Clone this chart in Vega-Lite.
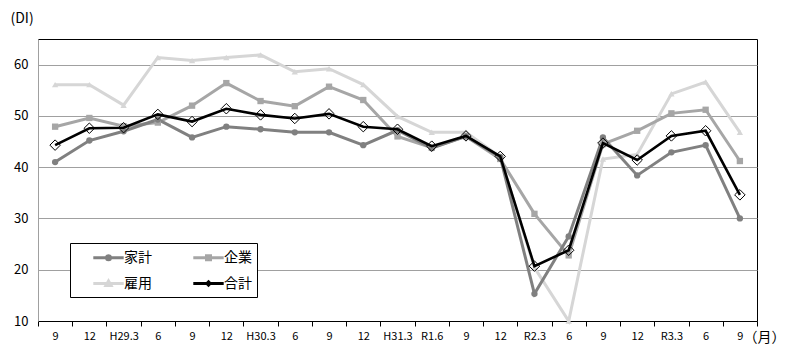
{
  "$schema": "https://vega.github.io/schema/vega-lite/v6.json",
  "width": 719,
  "height": 282,
  "autosize": {"type": "none"},
  "padding": {"left": 38, "top": 39, "right": 30, "bottom": 38},
  "background": "white",
  "config": {
    "view": {"stroke": "black", "strokeWidth": 1},
    "font": "Noto Sans CJK JP"
  },
  "datasets": {
    "di": [
      {"period": "H28.9", "series": "雇用", "value": 56.1},
      {"period": "H28.12", "series": "雇用", "value": 56.1},
      {"period": "H29.3", "series": "雇用", "value": 52.1},
      {"period": "H29.6", "series": "雇用", "value": 61.4},
      {"period": "H29.9", "series": "雇用", "value": 60.8},
      {"period": "H29.12", "series": "雇用", "value": 61.4},
      {"period": "H30.3", "series": "雇用", "value": 61.9},
      {"period": "H30.6", "series": "雇用", "value": 58.6},
      {"period": "H30.9", "series": "雇用", "value": 59.2},
      {"period": "H30.12", "series": "雇用", "value": 56.1},
      {"period": "H31.3", "series": "雇用", "value": 49.9},
      {"period": "R1.6", "series": "雇用", "value": 46.8},
      {"period": "R1.9", "series": "雇用", "value": 46.8},
      {"period": "R1.12", "series": "雇用", "value": 42.0},
      {"period": "R2.3", "series": "雇用", "value": 20.4},
      {"period": "R2.6", "series": "雇用", "value": 10.0},
      {"period": "R2.9", "series": "雇用", "value": 41.6},
      {"period": "R2.12", "series": "雇用", "value": 42.5},
      {"period": "R3.3", "series": "雇用", "value": 54.3},
      {"period": "R3.6", "series": "雇用", "value": 56.6},
      {"period": "R3.9", "series": "雇用", "value": 46.8},
      {"period": "H28.9", "series": "企業", "value": 47.9},
      {"period": "H28.12", "series": "企業", "value": 49.6},
      {"period": "H29.3", "series": "企業", "value": 48.0},
      {"period": "H29.6", "series": "企業", "value": 48.7},
      {"period": "H29.9", "series": "企業", "value": 52.0},
      {"period": "H29.12", "series": "企業", "value": 56.4},
      {"period": "H30.3", "series": "企業", "value": 52.9},
      {"period": "H30.6", "series": "企業", "value": 51.9},
      {"period": "H30.9", "series": "企業", "value": 55.7},
      {"period": "H30.12", "series": "企業", "value": 53.1},
      {"period": "H31.3", "series": "企業", "value": 46.0},
      {"period": "R1.6", "series": "企業", "value": 43.8},
      {"period": "R1.9", "series": "企業", "value": 46.0},
      {"period": "R1.12", "series": "企業", "value": 41.6},
      {"period": "R2.3", "series": "企業", "value": 30.9},
      {"period": "R2.6", "series": "企業", "value": 22.8},
      {"period": "R2.9", "series": "企業", "value": 44.5},
      {"period": "R2.12", "series": "企業", "value": 47.1},
      {"period": "R3.3", "series": "企業", "value": 50.5},
      {"period": "R3.6", "series": "企業", "value": 51.2},
      {"period": "R3.9", "series": "企業", "value": 41.2},
      {"period": "H28.9", "series": "家計", "value": 41.0},
      {"period": "H28.12", "series": "家計", "value": 45.2},
      {"period": "H29.3", "series": "家計", "value": 47.0},
      {"period": "H29.6", "series": "家計", "value": 49.3},
      {"period": "H29.9", "series": "家計", "value": 45.8},
      {"period": "H29.12", "series": "家計", "value": 47.9},
      {"period": "H30.3", "series": "家計", "value": 47.4},
      {"period": "H30.6", "series": "家計", "value": 46.8},
      {"period": "H30.9", "series": "家計", "value": 46.8},
      {"period": "H30.12", "series": "家計", "value": 44.3},
      {"period": "H31.3", "series": "家計", "value": 47.2},
      {"period": "R1.6", "series": "家計", "value": 43.7},
      {"period": "R1.9", "series": "家計", "value": 46.0},
      {"period": "R1.12", "series": "家計", "value": 42.0},
      {"period": "R2.3", "series": "家計", "value": 15.3},
      {"period": "R2.6", "series": "家計", "value": 26.5},
      {"period": "R2.9", "series": "家計", "value": 45.8},
      {"period": "R2.12", "series": "家計", "value": 38.4},
      {"period": "R3.3", "series": "家計", "value": 42.9},
      {"period": "R3.6", "series": "家計", "value": 44.3},
      {"period": "R3.9", "series": "家計", "value": 30.0},
      {"period": "H28.9", "series": "合計", "value": 44.3},
      {"period": "H28.12", "series": "合計", "value": 47.6},
      {"period": "H29.3", "series": "合計", "value": 47.7},
      {"period": "H29.6", "series": "合計", "value": 50.3},
      {"period": "H29.9", "series": "合計", "value": 48.9},
      {"period": "H29.12", "series": "合計", "value": 51.4},
      {"period": "H30.3", "series": "合計", "value": 50.2},
      {"period": "H30.6", "series": "合計", "value": 49.5},
      {"period": "H30.9", "series": "合計", "value": 50.4},
      {"period": "H30.12", "series": "合計", "value": 47.9},
      {"period": "H31.3", "series": "合計", "value": 47.4},
      {"period": "R1.6", "series": "合計", "value": 44.1},
      {"period": "R1.9", "series": "合計", "value": 46.1},
      {"period": "R1.12", "series": "合計", "value": 42.1},
      {"period": "R2.3", "series": "合計", "value": 20.7},
      {"period": "R2.6", "series": "合計", "value": 23.8},
      {"period": "R2.9", "series": "合計", "value": 44.7},
      {"period": "R2.12", "series": "合計", "value": 41.4},
      {"period": "R3.3", "series": "合計", "value": 46.1},
      {"period": "R3.6", "series": "合計", "value": 47.1},
      {"period": "R3.9", "series": "合計", "value": 34.6}
    ]
  },
  "data": {"name": "di"},
  "encoding": {
    "x": {
      "field": "period",
      "type": "ordinal",
      "bandPosition": 0.5,
      "sort": ["H28.9","H28.12","H29.3","H29.6","H29.9","H29.12","H30.3","H30.6","H30.9","H30.12","H31.3","R1.6","R1.9","R1.12","R2.3","R2.6","R2.9","R2.12","R3.3","R3.6","R3.9"],
      "scale": {"type": "band", "paddingInner": 0, "paddingOuter": 0},
      "axis": {
        "title": "（月）",
        "titleX": 705,
        "titleY": 16,
        "titleAlign": "left",
        "titleBaseline": "middle",
        "titleAnchor": null,
        "titleFontSize": 14,
        "titleFontWeight": "normal",
        "titleColor": "black",
        "labelAngle": 0,
        "labelFontSize": 11,
        "labelColor": "black",
        "labelOverlap": false,
        "labelPadding": 4,
        "labelExpr": "indexof(['H29.3','H30.3','H31.3','R1.6','R2.3','R3.3'], datum.value) >= 0 ? datum.value : split(datum.value, '.')[1]",
        "tickBand": "extent",
        "tickSize": 5,
        "tickColor": "black",
        "domainColor": "black",
        "grid": false
      }
    },
    "y": {
      "field": "value",
      "type": "quantitative",
      "scale": {"domain": [10, 65], "nice": false, "zero": false},
      "axis": {
        "values": [10, 20, 30, 40, 50, 60],
        "title": "(DI)",
        "titleAngle": 0,
        "titleX": -28,
        "titleY": -21,
        "titleAlign": "left",
        "titleBaseline": "middle",
        "titleFontSize": 14,
        "titleFontWeight": "normal",
        "titleColor": "black",
        "grid": true,
        "gridColor": "#a0a0a0",
        "gridWidth": 1,
        "domainColor": "#a0a0a0",
        "ticks": false,
        "labelPadding": 10,
        "labelFontSize": 13,
        "labelColor": "black"
      }
    }
  },
  "layer": [
    {
      "transform": [{"filter": "datum.series !== '合計'"}],
      "mark": {"type": "line", "strokeWidth": 3},
      "encoding": {
        "color": {
          "field": "series",
          "type": "nominal",
          "scale": {"domain": ["家計", "企業", "雇用", "合計"], "range": ["#808080", "#a6a6a6", "#d6d6d6", "#000000"]},
          "legend": {
            "title": null,
            "orient": "none",
            "legendX": 32,
            "legendY": 204,
            "columns": 2,
            "direction": "horizontal",
            "strokeColor": "black",
            "fillColor": "white",
            "padding": 5,
            "labelFontSize": 14,
            "labelColor": "black",
            "labelOffset": 6,
            "labelExpr": "datum.index % 2 === 1 ? datum.label + '　' : datum.label",
            "symbolSize": 256,
            "symbolOffset": 24,
            "symbolStrokeWidth": 3,
            "columnPadding": 23,
            "rowPadding": 8,
            "encode": {
              "symbols": {
                "update": {
                  "shape": {"signal": "datum.value === '家計' ? 'M-1.9,0H1.9M-0.25,0A0.25,0.25,0,1,1,0.25,0A0.25,0.25,0,1,1,-0.25,0Z' : datum.value === '企業' ? 'M-1.9,0H1.9M-0.25,-0.25H0.25V0.25H-0.25Z' : datum.value === '雇用' ? 'M-1.9,0H1.9M0,-0.32L0.32,0.25H-0.32Z' : 'M-1.9,0H1.9M0,-0.2L0.2,0L0,0.2L-0.2,0Z'"},
                  "fill": {"signal": "scale('color', datum.value)"},
                  "stroke": {"signal": "scale('color', datum.value)"},
                  "strokeWidth": {"value": 3}
                }
              }
            }
          }
        }
      }
    },
    {
      "transform": [{"filter": "datum.series !== '合計'"}],
      "mark": {"type": "point", "filled": true, "opacity": 1},
      "encoding": {
        "color": {"field": "series", "type": "nominal"},
        "shape": {
          "field": "series",
          "type": "nominal",
          "scale": {"domain": ["家計", "企業", "雇用"], "range": ["circle", "square", "triangle-up"]},
          "legend": null
        },
        "size": {
          "field": "series",
          "type": "nominal",
          "scale": {"domain": ["家計", "企業", "雇用"], "range": [40, 40, 45]},
          "legend": null
        }
      }
    },
    {
      "transform": [{"filter": "datum.series === '合計'"}],
      "mark": {"type": "line", "color": "black", "strokeWidth": 2.6},
      "encoding": {}
    },
    {
      "transform": [{"filter": "datum.series === '合計'"}],
      "mark": {"type": "point", "shape": "diamond", "filled": false, "stroke": "black", "strokeWidth": 1, "size": 110, "opacity": 1},
      "encoding": {}
    }
  ]
}
